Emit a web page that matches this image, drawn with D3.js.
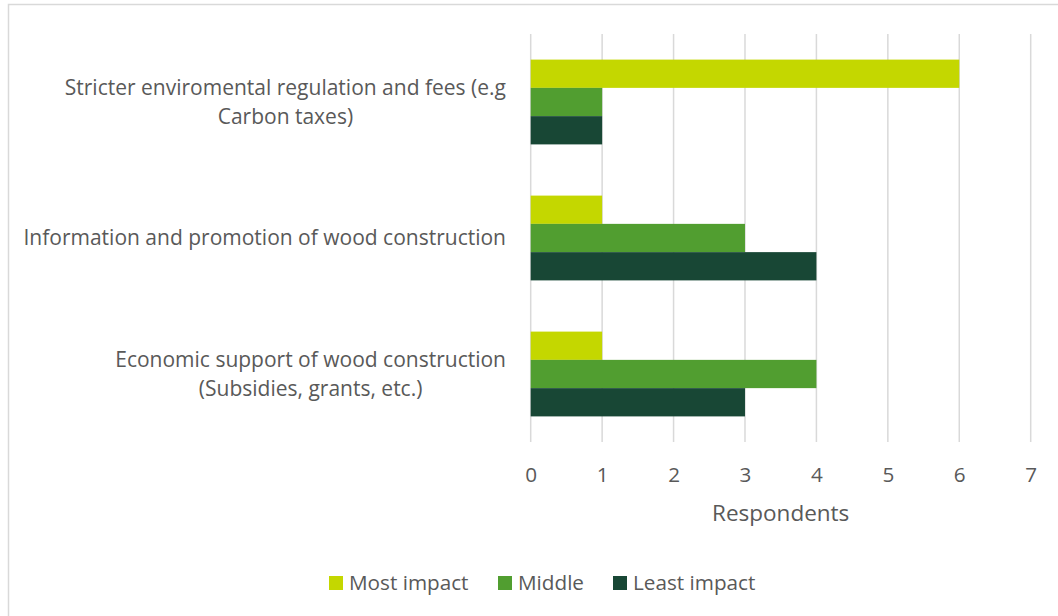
<!DOCTYPE html>
<html>
<head>
<meta charset="utf-8">
<script src="https://cdn.jsdelivr.net/npm/d3@7"></script>
<style>
  html, body { margin: 0; padding: 0; background: #fff; }
  svg text { font-family: "Open Sans", Lato, sans-serif; fill: #595959; }
</style>
</head>
<body>
<svg id="chart" width="1058" height="616"></svg>
<script>
const categories = [
  ["Stricter enviromental regulation and fees (e.g", "Carbon taxes)"],
  ["Information and promotion of wood construction"],
  ["Economic support of wood construction", "(Subsidies, grants, etc.)"]
];
const seriesNames = ["Most impact", "Middle", "Least impact"];
const seriesColors = ["#c4d700", "#519e30", "#184735"];
const mostImpact  = [6, 1, 1];
const middle      = [1, 3, 4];
const leastImpact = [1, 4, 3];
const xTicks = [0, 1, 2, 3, 4, 5, 6, 7];
const xTitle = "Respondents";

const values = [mostImpact, middle, leastImpact];
const svg = d3.select("#chart");
const W = 1058, H = 616;
const FONT = '"Open Sans", Lato, sans-serif';
const fs = 20.7;

// outer border
svg.append("rect").attr("x", 8.5).attr("y", 4.5).attr("width", W + 10).attr("height", H + 10)
  .attr("fill", "#fff").attr("stroke", "#d9d9d9").attr("stroke-width", 1.5);

const plot = { left: 530.7, right: 1030.7, top: 34, bottom: 442 };

const x = d3.scaleLinear().domain([0, 7]).range([plot.left, plot.right]);
const catIdx = d3.range(categories.length);
const pad = 0.3765;
const y = d3.scaleBand().domain(catIdx).range([plot.top, plot.bottom])
  .paddingInner(pad).paddingOuter(pad / 2);
const ySub = d3.scaleBand().domain(d3.range(seriesNames.length)).range([0, y.bandwidth()]);

// gridlines
svg.append("g").selectAll("line").data(xTicks).join("line")
  .attr("x1", d => x(d)).attr("x2", d => x(d))
  .attr("y1", plot.top).attr("y2", plot.bottom)
  .attr("stroke", "#d9d9d9").attr("stroke-width", 1.5);

// bars
const gBars = svg.append("g");
values.forEach((vals, s) => {
  gBars.append("g").selectAll("rect").data(catIdx).join("rect")
    .attr("x", x(0))
    .attr("y", c => y(c) + ySub(s))
    .attr("width", c => x(vals[c]) - x(0))
    .attr("height", ySub.bandwidth())
    .attr("fill", seriesColors[s]);
});

// x axis tick labels
const xAxis = d3.axisBottom(x).tickValues(xTicks).tickSize(0).tickPadding(0).tickFormat(d3.format("d"));
const gx = svg.append("g").attr("transform", `translate(0,${plot.bottom})`).call(xAxis);
gx.select(".domain").remove();
gx.selectAll("text").attr("y", 32.5).attr("dy", "0.35em")
  .style("font-size", fs + "px").style("fill", "#595959")
  .style("font-family", FONT);

// axis title
svg.append("text").attr("x", (plot.left + plot.right) / 2).attr("y", 513).attr("dy", "0.35em")
  .attr("text-anchor", "middle").style("font-size", "22.5px").text(xTitle);

// category labels (centered block, right edge near 506)
const lineH = 29;
const labelRight = 506;
catIdx.forEach(c => {
  const lines = categories[c];
  const cy = y(c) + y.bandwidth() / 2;
  const t = svg.append("text").style("font-size", "21px").attr("text-anchor", "middle");
  const spans = lines.map((ln, i) => t.append("tspan")
    .attr("y", cy + (i - (lines.length - 1) / 2) * lineH).attr("dy", "0.35em").text(ln));
  let maxW = 0;
  spans.forEach(sp => { maxW = Math.max(maxW, sp.node().getComputedTextLength()); });
  spans.forEach(sp => sp.attr("x", labelRight - maxW / 2));
});

// legend
const legendY = 583;
const legend = svg.append("g");
const legendX = [329, 498, 613];
seriesNames.forEach((name, i) => {
  const g = legend.append("g").attr("transform", `translate(${legendX[i]},${legendY})`);
  g.append("rect").attr("x", 0).attr("y", -7).attr("width", 14).attr("height", 14).attr("fill", seriesColors[i]);
  g.append("text").attr("x", 20).attr("dy", "0.35em").style("font-size", fs + "px").text(name);
});
</script>
</body>
</html>
